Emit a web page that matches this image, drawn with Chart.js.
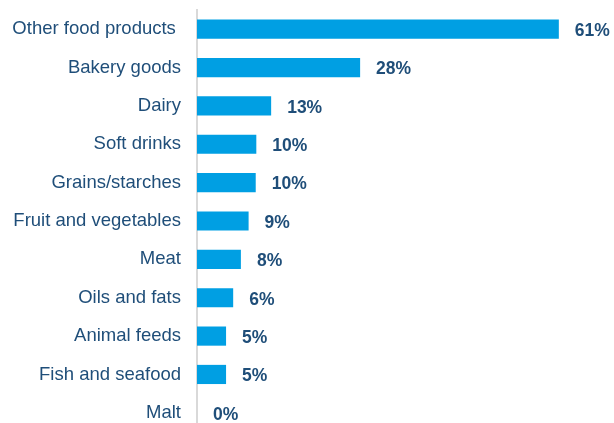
<!DOCTYPE html>
<html>
<head>
<meta charset="utf-8">
<script src="https://cdn.jsdelivr.net/npm/chart.js@4/dist/chart.umd.min.js"></script>
<style>
  html, body { margin: 0; padding: 0; background: #ffffff; overflow: hidden; }
  #wrap { width: 614px; height: 432px; position: relative; }
</style>
</head>
<body>
<div id="wrap"><canvas id="c" width="614" height="432"></canvas></div>
<script>
const categories = [
  'Other food products ', 'Bakery goods', 'Dairy', 'Soft drinks', 'Grains/starches',
  'Fruit and vegetables', 'Meat', 'Oils and fats', 'Animal feeds', 'Fish and seafood', 'Malt'
];
const shares = [61, 27.5, 12.5, 10, 9.9, 8.7, 7.4, 6.1, 4.9, 4.9, 0];
const shareLabels = ['61%', '28%', '13%', '10%', '10%', '9%', '8%', '6%', '5%', '5%', '0%'];

const NAVY = '#1f4e79';
const BAR = '#009fe3';

const valueLabels = {
  id: 'valueLabels',
  afterDatasetsDraw(chart) {
    const ctx = chart.ctx;
    const meta = chart.getDatasetMeta(0);
    ctx.save();
    ctx.font = 'bold 17.5px "Liberation Sans", Arial, sans-serif';
    ctx.fillStyle = NAVY;
    ctx.textAlign = 'left';
    ctx.textBaseline = 'middle';
    meta.data.forEach((bar, i) => {
      ctx.fillText(shareLabels[i], bar.x + 16, bar.y + 2);
    });
    ctx.restore();
  }
};

new Chart(document.getElementById('c'), {
  type: 'bar',
  data: {
    labels: categories,
    datasets: [{
      data: shares,
      backgroundColor: BAR,
      borderWidth: 0,
      categoryPercentage: 1,
      barPercentage: 0.5
    }]
  },
  options: {
    indexAxis: 'y',
    responsive: false,
    animation: false,
    devicePixelRatio: 1,
    layout: { padding: { top: 10, right: 0, bottom: 0, left: 0 } },
    plugins: {
      legend: { display: false },
      tooltip: { enabled: false }
    },
    scales: {
      x: { display: false, min: 0, max: 70.3 },
      y: {
        afterFit(s) { s.width = 197; s.paddingTop = 0; s.paddingBottom = 0; },
        grid: { display: false, drawTicks: false },
        border: { display: true, color: '#d9d9d9', width: 2 },
        ticks: {
          padding: 16,
          color: NAVY,
          font: { family: '"Liberation Sans", Arial, sans-serif', size: 18.5 }
        }
      }
    }
  },
  plugins: [valueLabels]
});
</script>
</body>
</html>
